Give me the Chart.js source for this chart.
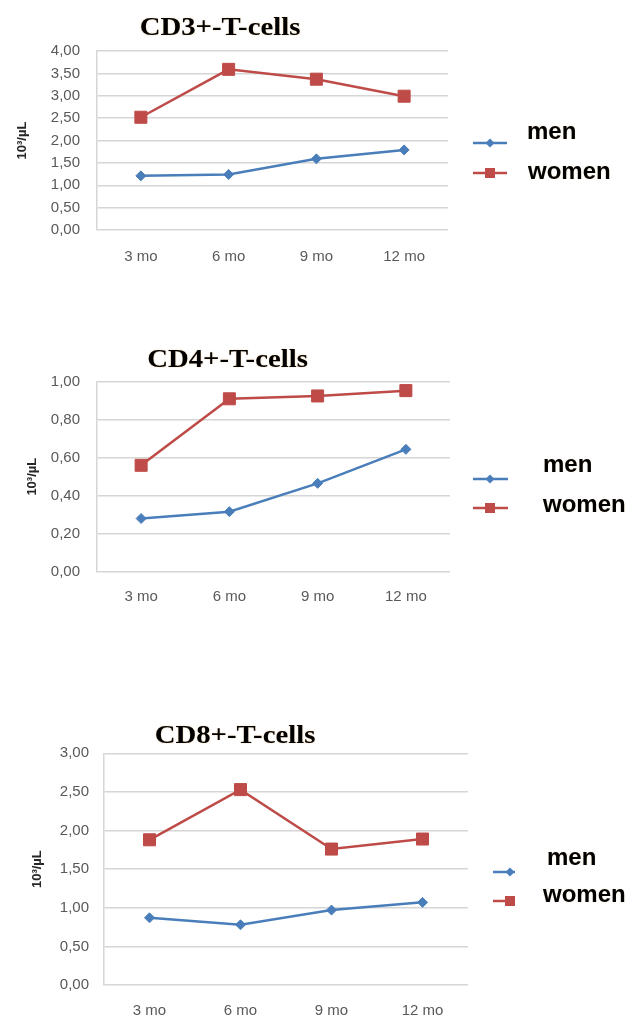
<!DOCTYPE html>
<html><head><meta charset="utf-8">
<script src="https://cdn.jsdelivr.net/npm/chart.js@4"></script>
<style>
html,body{margin:0;padding:0;background:#fff;}
body{width:631px;height:1018px;position:relative;overflow:hidden;}
.box{position:absolute;left:0;width:631px;}
</style></head><body>
<div class="box" style="top:0;height:280px"><canvas id="c1"></canvas></div>
<div class="box" style="top:340px;height:280px"><canvas id="c2"></canvas></div>
<div class="box" style="top:700px;height:318px"><canvas id="c3"></canvas></div>
<script>
const categories = ['3 mo', '6 mo', '9 mo', '12 mo'];
const seriesNames = ['men', 'women'];
const yAxisTitle = '10³/µL';

const cd3Title = 'CD3+-T-cells';
const cd3Men = [1.21, 1.24, 1.59, 1.79];
const cd3Women = [2.52, 3.59, 3.37, 2.99];
const cd3Ticks = ['0,00', '0,50', '1,00', '1,50', '2,00', '2,50', '3,00', '3,50', '4,00'];

const cd4Title = 'CD4+-T-cells';
const cd4Men = [0.28, 0.316, 0.465, 0.644];
const cd4Women = [0.56, 0.91, 0.925, 0.953];
const cd4Ticks = ['0,00', '0,20', '0,40', '0,60', '0,80', '1,00'];

const cd8Title = 'CD8+-T-cells';
const cd8Men = [0.87, 0.78, 0.97, 1.07];
const cd8Women = [1.88, 2.53, 1.76, 1.89];
const cd8Ticks = ['0,00', '0,50', '1,00', '1,50', '2,00', '2,50', '3,00'];

const BLUE = '#4a7ebb';
const RED = '#be4b48';
const GRID = '#d6d6d6';

function drawMarker(ctx, style, x, y, color) {
  ctx.save();
  ctx.fillStyle = color;
  ctx.beginPath();
  if (style === 'rect') {
    ctx.rect(x - 5, y - 5, 10, 10);
  } else {
    ctx.moveTo(x - 4.5, y); ctx.lineTo(x, y - 4.5); ctx.lineTo(x + 4.5, y); ctx.lineTo(x, y + 4.5); ctx.closePath();
  }
  ctx.fill();
  ctx.restore();
}

const decor = {
  id: 'decor',
  afterDraw(chart, args, o) {
    const ctx = chart.ctx;
    ctx.save();
    // title
    ctx.save();
    ctx.font = 'bold 25px "Liberation Serif"';
    ctx.fillStyle = '#000';
    ctx.textAlign = 'center';
    ctx.textBaseline = 'alphabetic';
    ctx.shadowColor = 'rgba(210,130,20,0.45)';
    ctx.shadowBlur = 1.5;
    ctx.translate(o.titleX, o.titleBase);
    ctx.scale(1.15, 1);
    ctx.fillText(o.title, 0, 0);
    ctx.restore();
    // y axis title
    ctx.save();
    const ca = chart.chartArea;
    ctx.translate(o.yTitleX, (ca.top + ca.bottom) / 2);
    ctx.rotate(-Math.PI / 2);
    ctx.font = 'bold 13px "Liberation Sans"';
    ctx.fillStyle = '#262626';
    ctx.textAlign = 'center';
    ctx.textBaseline = 'middle';
    ctx.fillText(yAxisTitle, 0, 0);
    ctx.restore();
    // legend
    chart.data.datasets.forEach((ds, i) => {
      const r = o.legend[i];
      ctx.strokeStyle = ds.borderColor;
      ctx.lineWidth = 2.5;
      ctx.beginPath();
      ctx.moveTo(o.lx1, r.ly);
      ctx.lineTo(o.lx2, r.ly);
      ctx.stroke();
      drawMarker(ctx, ds.pointStyle, o.mx, r.ly, ds.borderColor);
      ctx.font = 'bold 24px "Liberation Sans"';
      ctx.fillStyle = '#000';
      ctx.textAlign = 'left';
      ctx.textBaseline = 'middle';
      ctx.shadowColor = 'rgba(210,130,20,0.35)';
      ctx.shadowBlur = 1;
      ctx.fillText(ds.label, r.tx, r.ty);
      ctx.shadowColor = 'transparent';
    });
    ctx.restore();
  }
};

function makeChart(id, cfg) {
  const ds = [
    { label: seriesNames[0], data: cfg.men, borderColor: BLUE, backgroundColor: BLUE,
      pointStyle: 'rectRot', pointRadius: 5, pointBorderWidth: 1, pointBackgroundColor: BLUE, pointBorderColor: BLUE,
      borderWidth: 2.5, tension: 0 },
    { label: seriesNames[1], data: cfg.women, borderColor: RED, backgroundColor: RED,
      pointStyle: 'rect', pointRadius: 8.5, pointBorderWidth: 1, pointBackgroundColor: RED, pointBorderColor: RED,
      borderWidth: 2.5, tension: 0 }
  ];
  return new Chart(document.getElementById(id), {
    type: 'line',
    data: { labels: categories, datasets: ds },
    options: {
      responsive: true,
      maintainAspectRatio: false,
      animation: false,
      events: [],
      layout: { padding: { left: 0, top: cfg.top, right: 631 - cfg.right, bottom: 0 } },
      plugins: {
        legend: { display: false },
        title: { display: false },
        tooltip: { enabled: false },
        decor: cfg.decor
      },
      scales: {
        x: {
          offset: true,
          grid: { display: false, drawTicks: false },
          border: { display: false },
          ticks: { color: '#595959', font: { family: 'Liberation Sans', size: 15 }, padding: cfg.xPad, maxRotation: 0 },
          afterFit(s) { s.height = cfg.height - cfg.bottom; }
        },
        y: {
          min: 0, max: cfg.max,
          grid: { color: GRID, lineWidth: 1.5, drawTicks: false },
          border: { display: true, color: GRID, width: 1.5 },
          ticks: {
            stepSize: cfg.step, color: '#595959', font: { family: 'Liberation Sans', size: 15 }, padding: cfg.yPad,
            callback: (v, i) => cfg.ticks[i]
          },
          afterFit(s) { s.width = cfg.left; }
        }
      }
    },
    plugins: [decor]
  });
}

makeChart('c1', {
  men: cd3Men, women: cd3Women, ticks: cd3Ticks, max: 4, step: 0.5,
  height: 280, left: 97, top: 51, right: 448, bottom: 230, xPad: 18, yPad: 17,
  decor: { title: cd3Title, titleX: 220, titleBase: 35, yTitleX: 22,
    lx1: 473, lx2: 507, mx: 490,
    legend: [ { ly: 143, tx: 527, ty: 132 }, { ly: 173, tx: 528, ty: 172 } ] }
});
makeChart('c2', {
  men: cd4Men, women: cd4Women, ticks: cd4Ticks, max: 1, step: 0.2,
  height: 280, left: 97, top: 41.7, right: 450, bottom: 231.7, xPad: 16, yPad: 17,
  decor: { title: cd4Title, titleX: 227.5, titleBase: 27, yTitleX: 32,
    lx1: 473, lx2: 508, mx: 490,
    legend: [ { ly: 139, tx: 543, ty: 125 }, { ly: 168, tx: 543, ty: 165 } ] }
});
makeChart('c3', {
  men: cd8Men, women: cd8Women, ticks: cd8Ticks, max: 3, step: 0.5,
  height: 318, left: 104, top: 53.3, right: 468, bottom: 285, xPad: 17, yPad: 15,
  decor: { title: cd8Title, titleX: 235, titleBase: 43, yTitleX: 37,
    lx1: 493, lx2: 515, mx: 510,
    legend: [ { ly: 172, tx: 547, ty: 158 }, { ly: 201, tx: 543, ty: 195 } ] }
});
</script>
</body></html>
